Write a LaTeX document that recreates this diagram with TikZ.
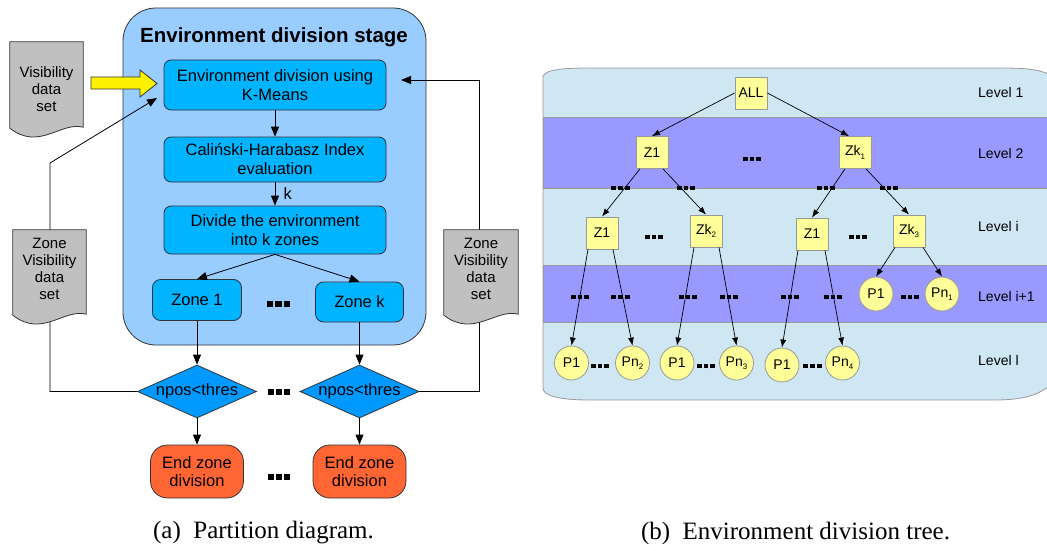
\documentclass[tikz,border=0pt]{standalone}
\usepackage{fontspec}
\setmainfont{Liberation Sans}
\newfontfamily\capfont{Liberation Serif}
\usetikzlibrary{arrows.meta,shapes.geometric,calc}
\pgfdeclarelayer{back}
\pgfdeclarelayer{conn}
\pgfdeclarelayer{docl}
\pgfsetlayers{back,conn,docl,main}
\definecolor{panelblue}{HTML}{99CCFF}
\definecolor{boxcyan}{HTML}{00B4FF}
\definecolor{diablue}{HTML}{0099FF}
\definecolor{endorange}{HTML}{FF6633}
\definecolor{docgray}{HTML}{C0C0C0}
\definecolor{bandlight}{HTML}{CFE6F3}
\definecolor{bandpurple}{HTML}{9999FF}
\definecolor{nodeyellow}{HTML}{FFFF99}
\definecolor{edgegray}{HTML}{333333}
\definecolor{treegray}{HTML}{999999}
\newcommand\sqdots[2]{\rule{#1}{#1}\hspace{#2}\rule{#1}{#1}\hspace{#2}\rule{#1}{#1}}
\newcommand\tsub[1]{\raisebox{-3.5pt}{\fontsize{8}{8}\selectfont #1}}
\newcommand\docshape[2]{%
  \begin{pgfonlayer}{docl}
  \draw[docsty] let \p1=(#1.north west), \p2=(#1.south east), \n1={\x2-\x1} in
    (\x1,\y1) -- (\x2,\y1) -- (\x2,{\y2-#2pt+10pt})
    .. controls ({\x2-0.3*\n1},{\y2-#2pt+16pt}) and ({\x1+0.4*\n1},{\y2-#2pt-14pt}) .. (\x1,{\y2-#2pt+9pt}) -- cycle;
  \end{pgfonlayer}}
\begin{document}
\begin{tikzpicture}[x=1pt,y=-1pt,
  base/.style={font=\fontsize{16.5}{19}\selectfont, text=black},
  stagebox/.style={base, draw=edgegray, fill=boxcyan, rounded corners=7pt, minimum width=222pt, align=center, inner sep=0pt, line width=0.8pt},
  zonebox/.style={base, draw=edgegray, fill=boxcyan, rounded corners=8pt, minimum width=89pt, minimum height=41pt, inner sep=0pt, line width=0.8pt},
  decision/.style={base, diamond, draw=edgegray, fill=diablue, aspect=2.25, minimum width=119pt, minimum height=53pt, inner sep=0pt, line width=0.8pt},
  endbox/.style={draw=edgegray, fill=endorange, rounded corners=17pt, minimum width=93pt, minimum height=53pt, align=center, inner sep=0pt, font=\fontsize{16.5}{18}\selectfont, line width=0.8pt},
  doctext/.style={align=center, inner sep=0pt, font=\fontsize{15}{17}\selectfont},
  docsty/.style={draw=edgegray, fill=docgray, line width=0.8pt},
  arr/.style={draw=black, line width=0.8pt, -{Triangle[length=10pt,width=8pt]}},
  dotnode/.style={inner sep=0pt},
  treesq/.style={draw=treegray, fill=nodeyellow, minimum size=32pt, inner sep=0pt, line width=0.8pt, font=\fontsize{14}{16}\selectfont},
  treeci/.style={circle, draw=treegray, fill=nodeyellow, minimum size=34pt, inner sep=0pt, line width=0.8pt, font=\fontsize{14}{16}\selectfont},
  tarr/.style={draw=black, line width=0.7pt, -{Latex[length=8pt,width=6pt]}},
  lvltext/.style={anchor=west, inner sep=0pt, font=\fontsize{14}{16}\selectfont},
  captext/.style={font=\capfont\fontsize{25}{30}\selectfont}
]
\useasboundingbox (0,0) rectangle (1047,551);

% ---------------- left panel ----------------
\begin{pgfonlayer}{back}
  \draw[fill=panelblue, draw=edgegray, line width=0.8pt, rounded corners=33pt] (123,8) rectangle (426,345);
\end{pgfonlayer}

\node[font=\bfseries\fontsize{20.5}{24}\selectfont, anchor=base, inner sep=0pt] (title) at (274,43) {Environment division stage};

\node[stagebox, minimum height=50pt] (km) at (275,85) {Environment division using\\K-Means};
\node[stagebox, minimum height=45pt] (ch) at (275,159.5) {Caliński-Harabasz Index\\evaluation};
\node[stagebox, minimum height=48pt] (dv) at (275,230) {Divide the environment\\into k zones};
\node[zonebox] (z1) at (197,300) {Zone 1};
\node[zonebox, minimum width=88pt, minimum height=40pt] (zk) at (359.5,302) {Zone k};
\node[dotnode] (zdots) at (278.5,304) {\sqdots{6.3pt}{1.9pt}};

\node[decision] (d1) at (197,391.5) {npos<thres};
\node[decision] (d2) at (359.5,391.5) {npos<thres};
\node[dotnode] (ddots) at (279,392) {\sqdots{6.3pt}{1.9pt}};

\node[endbox] (e1) at (197,471.5) {End zone\\division};
\node[endbox] (e2) at (359.5,471.5) {End zone\\division};
\node[dotnode] (edots) at (279,477) {\sqdots{6.3pt}{1.9pt}};

\draw[arr] (km) -- (ch);
\draw[arr] (ch) -- node[base, right=5pt, pos=0.5] (klab) {k} (dv);
\draw[arr] (dv.south) -- (z1.north);
\draw[arr] (dv.south) -- (zk.north);
\draw[arr] (z1) -- (d1);
\draw[arr] (zk) -- (d2);
\draw[arr] (d1) -- (e1);
\draw[arr] (d2) -- (e2);

% documents
\node[doctext, minimum width=73pt, minimum height=94pt] (vis) at (46.5,89) {Visibility\\data\\set};
\docshape{vis}{1}
\node[doctext, minimum width=73pt, minimum height=77pt] (zvl) at (49.5,268.5) {Zone\\Visibility\\data\\set};
\docshape{zvl}{17}
\node[doctext, minimum width=74pt, minimum height=77pt] (zvr) at (481,268.5) {Zone\\Visibility\\data\\set};
\docshape{zvr}{17}

% yellow input arrow
\draw[fill=yellow, draw=edgegray, line width=0.8pt] (91,77) -- (140,77) -- (140,70) -- (157,83.5) -- (140,97) -- (140,89) -- (91,89) -- cycle;

% feedback loops
\coordinate (lx) at (50,163);
\coordinate (fbL) at (157,98);
\coordinate (rx) at (479,80);
\coordinate (fbR) at (401,80);
\begin{pgfonlayer}{conn}
  \draw[arr] (d1.west) -| (lx) -- (fbL);
  \draw[arr] (d2.east) -| (rx) -- (fbR);
\end{pgfonlayer}

\node[captext] (capa) at (263.5,533) {(a)\enspace Partition diagram.};

% ---------------- right panel ----------------
\begin{pgfonlayer}{back}
  \draw[fill=bandlight, draw=treegray, line width=0.8pt]
    (543,76) .. controls (546,70) and (560,68) .. (590,68) -- (1000,68)
    .. controls (1030,68) and (1042,70) .. (1052,76) -- (1052,383)
    .. controls (1040,396) and (1020,400) .. (995,400) -- (590,400)
    .. controls (560,400) and (543,396) .. (543,388) -- cycle;
  \draw[fill=bandpurple, draw=treegray, line width=0.8pt] (543,117) rectangle (1052,188);
  \draw[fill=bandpurple, draw=treegray, line width=0.8pt] (543,265) rectangle (1052,322);
\end{pgfonlayer}

\node[lvltext] (lv1) at (978,92) {Level 1};
\node[lvltext] (lv2) at (978,153) {Level 2};
\node[lvltext] (lvi) at (978,226) {Level i};
\node[lvltext] (lvi1) at (978,296) {Level i+1};
\node[lvltext] (lvl) at (978,360) {Level l};

\node[treesq] (all) at (751,93) {ALL};
\node[treesq] (t1) at (652,152.5) {Z1};
\node[treesq] (tk1) at (855,152.5) {Zk\tsub{1}};
\node[dotnode] (td2) at (752,159) {\sqdots{4.8pt}{1.9pt}};

\node[treesq] (t11) at (602,233) {Z1};
\node[treesq] (tk2) at (706,231) {Zk\tsub{2}};
\node[treesq] (t1c) at (812,234) {Z1};
\node[treesq] (tk3) at (909,231) {Zk\tsub{3}};
\node[dotnode] (tdi1) at (654,237) {\sqdots{4.8pt}{1.9pt}};
\node[dotnode] (tdi2) at (858,237) {\sqdots{4.8pt}{1.9pt}};

\node[dotnode] (tb1) at (620.5,188) {\sqdots{4.8pt}{1.9pt}};
\node[dotnode] (tb2) at (686,188) {\sqdots{4.8pt}{1.9pt}};
\node[dotnode] (tb3) at (826,188) {\sqdots{4.8pt}{1.9pt}};
\node[dotnode] (tb4) at (889,188) {\sqdots{4.8pt}{1.9pt}};

\node[treeci] (pd) at (876,294) {P1};
\node[treeci] (pnd) at (942,294) {Pn\tsub{1}};
\node[dotnode] (tdd) at (910,297) {\sqdots{4.8pt}{1.9pt}};

\node[dotnode] (tp1) at (580,297) {\sqdots{4.8pt}{1.9pt}};
\node[dotnode] (tp2) at (620.5,297) {\sqdots{4.8pt}{1.9pt}};
\node[dotnode] (tp3) at (688,297) {\sqdots{4.8pt}{1.9pt}};
\node[dotnode] (tp4) at (729,297) {\sqdots{4.8pt}{1.9pt}};
\node[dotnode] (tp5) at (790,297) {\sqdots{4.8pt}{1.9pt}};
\node[dotnode] (tp6) at (833,297) {\sqdots{4.8pt}{1.9pt}};

\node[treeci] (pa) at (571.5,363) {P1};
\node[treeci] (pna) at (632.5,363) {Pn\tsub{2}};
\node[treeci] (pb) at (677,363) {P1};
\node[treeci] (pnb) at (736.5,363) {Pn\tsub{3}};
\node[treeci] (pc) at (782,365) {P1};
\node[treeci] (pnc) at (842.5,363) {Pn\tsub{4}};
\node[dotnode] (tla) at (600,366) {\sqdots{4.8pt}{1.9pt}};
\node[dotnode] (tlb) at (706,366) {\sqdots{4.8pt}{1.9pt}};
\node[dotnode] (tlc) at (812.5,366) {\sqdots{4.8pt}{1.9pt}};

\draw[tarr] (all.west) -- (t1.north);
\draw[tarr] (all.east) -- ([xshift=-6pt]tk1.north);
\draw[tarr] ([xshift=-12pt]t1.south) -- (t11.north);
\draw[tarr] ([xshift=11pt]t1.south) -- (tk2.north);
\draw[tarr] ([xshift=-10pt]tk1.south) -- (t1c.north);
\draw[tarr] ([xshift=11pt]tk1.south) -- (tk3.north);

\draw[tarr] ([xshift=-14pt]t11.south) -- (pa.north);
\draw[tarr] ([xshift=11pt]t11.south) -- (pna.north);
\draw[tarr] ([xshift=-12pt]tk2.south) -- (pb.north);
\draw[tarr] ([xshift=13pt]tk2.south) -- (pnb.north);
\draw[tarr] ([xshift=-14pt]t1c.south) -- (pc.north);
\draw[tarr] ([xshift=13pt]t1c.south) -- (pnc.north);
\draw[tarr] ([xshift=-14pt]tk3.south) -- (pd.north);
\draw[tarr] ([xshift=14pt]tk3.south) -- (pnd.north);

\node[captext] (capb) at (795.5,533) {(b)\enspace Environment division tree.};
\end{tikzpicture}
\end{document}
